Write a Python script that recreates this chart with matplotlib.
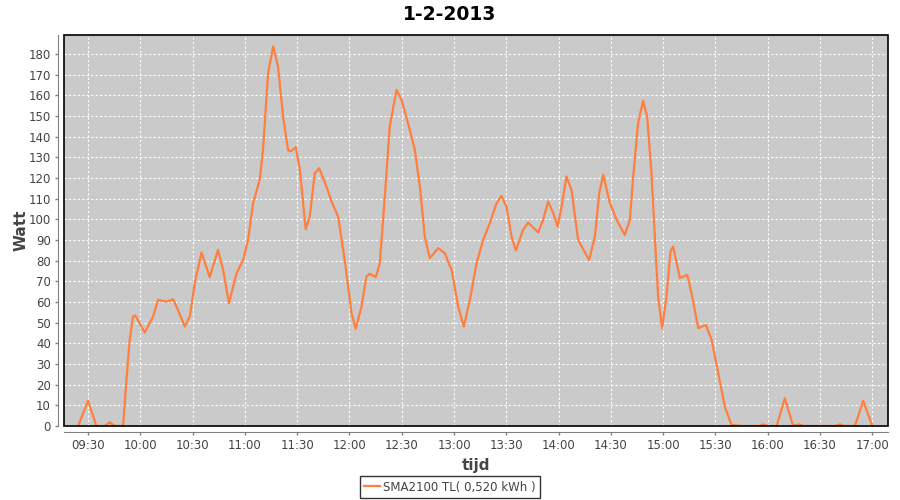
import matplotlib
matplotlib.use('Agg')
import matplotlib.pyplot as plt
from matplotlib.patches import Rectangle
from matplotlib.ticker import FixedLocator, FuncFormatter

# time of each reading, minutes after midnight
minutes = [
    564.3, 570.0, 574.8, 579.6, 582.5, 585.3, 590.1, 592.0, 593.9, 595.8,
    597.2, 602.5, 607.3, 610.2, 615.0, 618.8, 621.6, 625.5, 628.4, 631.2,
    635.1, 639.8, 644.6, 647.5, 650.9, 655.2, 659.0, 661.8, 664.7, 668.5,
    670.4, 673.3, 676.2, 679.0, 681.9, 684.8, 686.5, 689.2, 691.5, 694.9,
    697.2, 700.1, 702.6, 706.8, 710.0, 713.5, 717.3, 721.2, 723.6, 726.9,
    729.7, 731.7, 735.1, 737.4, 740.3, 743.1, 747.0, 749.9, 754.6, 757.5,
    760.4, 763.2, 766.1, 770.9, 774.7, 778.6, 782.4, 785.6, 789.1, 792.9,
    796.7, 800.5, 804.4, 807.2, 810.1, 813.0, 815.5, 819.6, 822.5, 828.3,
    831.1, 834.0, 836.9, 839.4, 841.7, 844.5, 847.4, 851.2, 857.5, 860.8,
    863.3, 865.6, 869.2, 873.3, 878.0, 880.9, 882.8, 885.6, 888.5, 890.8,
    893.3, 895.2, 897.1, 899.4, 901.9, 904.2, 905.7, 909.6, 913.8, 916.3,
    920.1, 924.5, 927.8, 931.6, 935.4, 939.2, 945.0, 955.0, 957.4, 960.0,
    962.0, 965.1, 969.8, 974.6, 978.0, 980.4, 985.0, 999.0, 1001.4, 1003.5,
    1005.0, 1010.0, 1014.8, 1020.0,
]
watt = [
    0.0, 12.2, 0.0, 0.0, 1.8, 0.0, 0.0, 22.0, 41.6, 52.9,
    53.4, 45.2, 52.9, 61.0, 60.2, 61.3, 56.1, 48.1, 52.9, 69.1,
    83.9, 72.0, 85.2, 75.5, 59.4, 73.9, 80.3, 90.0, 107.8, 119.1,
    133.6, 170.7, 183.6, 173.9, 149.7, 133.3, 133.0, 134.9, 123.9, 95.2,
    101.3, 122.3, 124.7, 115.8, 108.0, 101.3, 80.0, 54.5, 47.0, 57.7,
    72.3, 73.6, 72.0, 78.7, 111.0, 144.9, 162.6, 157.8, 143.3, 133.6,
    115.8, 91.6, 81.2, 86.0, 83.6, 75.5, 57.7, 48.1, 61.0, 78.7,
    90.0, 98.1, 107.8, 111.3, 106.1, 91.6, 84.9, 94.9, 98.4, 93.7,
    99.7, 108.6, 103.0, 96.5, 106.1, 120.7, 114.2, 90.0, 80.3, 91.6,
    112.6, 121.5, 108.5, 99.7, 92.4, 99.7, 120.7, 146.5, 157.3, 149.7,
    122.3, 91.6, 62.6, 47.3, 62.6, 84.4, 86.8, 71.5, 73.1, 64.2,
    47.3, 48.9, 41.6, 25.5, 9.3, 0.5, 0.0, 0.0, 0.8, 0.0,
    0.0, 0.0, 13.4, 0.0, 0.8, 0.0, 0.0, 0.0, 0.8, 0.0,
    0.0, 0.0, 12.2, 0.0,
]

title = '1-2-2013'
series_label = 'SMA2100 TL( 0,520 kWh )'
x_ticks = list(range(570, 1021, 30))   # 09:30 .. 17:00
y_ticks = list(range(0, 181, 10))

fig = plt.figure(figsize=(9, 5), dpi=100)
ax = fig.add_axes([64 / 900, 74 / 500, 824 / 900, 390.7 / 500])
ax.set_facecolor('#cacaca')

line, = ax.plot(minutes, watt, color='#ff7f3f', lw=1.6, label=series_label, zorder=3)

ax.set_xlim(556.2, 1029)
ax.set_ylim(0, 189)

ax.xaxis.set_major_locator(FixedLocator(x_ticks))
ax.xaxis.set_major_formatter(FuncFormatter(lambda v, p: f'{int(v) // 60:02d}:{int(v) % 60:02d}'))
ax.yaxis.set_major_locator(FixedLocator(y_ticks))

ax.grid(True, color='white', lw=0.8, ls=(0, (2, 2)))
ax.set_axisbelow(True)

# JFreeChart-style: grey axis lines set off from a black plot frame
for side in ('top', 'right'):
    ax.spines[side].set_visible(False)
for side in ('left', 'bottom'):
    ax.spines[side].set_position(('outward', 4))
    ax.spines[side].set_color('#808080')
ax.add_patch(Rectangle((0, 0), 1, 1, transform=ax.transAxes, fill=False,
                       ec='black', lw=1.2, zorder=4, clip_on=False))

ax.tick_params(axis='both', colors='#808080', labelcolor='#444444',
               labelsize=8.5, length=2, width=1)

ax.set_xlabel('tijd', fontsize=11, fontweight='bold', color='#444444', labelpad=4)
ax.set_ylabel('Watt', fontsize=11, fontweight='bold', color='#444444', labelpad=0)
fig.text(0.5, 1 - 14 / 500, title, ha='center', va='center',
         fontsize=13.5, fontweight='bold', color='black')

leg = fig.legend(handles=[line], loc='center', bbox_to_anchor=(0.5, 1 - 487 / 500),
                 fontsize=8.5, frameon=True, fancybox=False, handlelength=1.3,
                 handletextpad=0.3, borderpad=0.35, borderaxespad=0)
leg.get_frame().set_edgecolor('black')
leg.get_frame().set_linewidth(1)
for t in leg.get_texts():
    t.set_color('#444444')

fig.savefig('out.png', dpi=100)
